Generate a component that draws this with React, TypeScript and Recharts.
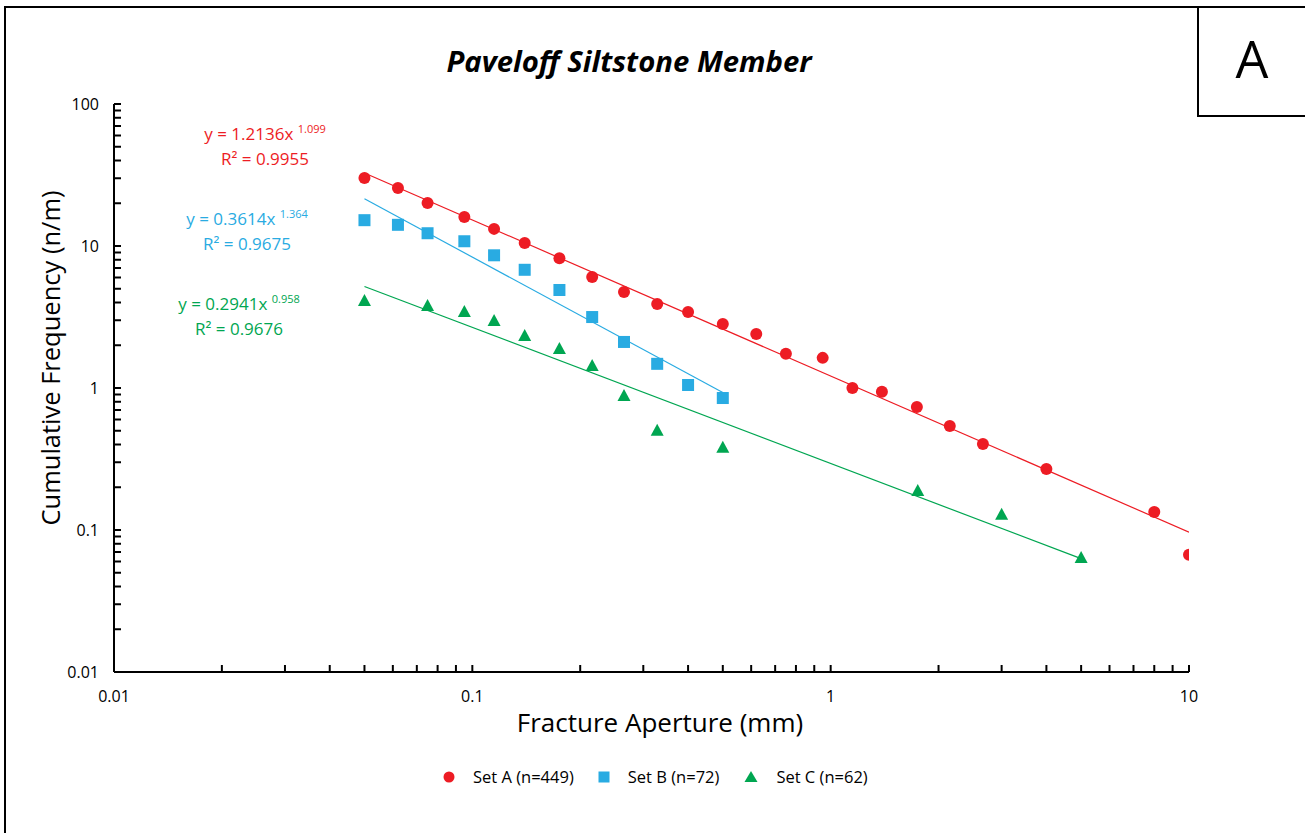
import { ScatterChart, Scatter, XAxis, YAxis } from "recharts"

const RED = "#ED1C24"
const BLUE = "#29ABE2"
const GREEN = "#00A651"
const FONT = "'Open Sans', sans-serif"

// aperture (mm) and cumulative frequency (n/m)
const setAX = [0.05, 0.062, 0.075, 0.095, 0.115, 0.14, 0.175, 0.216, 0.265, 0.328, 0.4, 0.5, 0.62, 0.75, 0.95, 1.15, 1.39, 1.74, 2.15, 2.66, 4, 8, 10]
const setAY = [30.1, 25.6, 20.1, 16.0, 13.2, 10.5, 8.2, 6.05, 4.75, 3.9, 3.43, 2.82, 2.4, 1.74, 1.63, 1.0, 0.94, 0.735, 0.54, 0.403, 0.269, 0.134, 0.067]

const setBX = [0.05, 0.062, 0.075, 0.095, 0.115, 0.14, 0.175, 0.216, 0.265, 0.328, 0.4, 0.5]
const setBY = [15.2, 14.1, 12.3, 10.8, 8.6, 6.8, 4.9, 3.16, 2.11, 1.48, 1.05, 0.85]

const setCX = [0.05, 0.075, 0.095, 0.115, 0.14, 0.175, 0.216, 0.265, 0.328, 0.5, 1.75, 3, 5]
const setCY = [4.1, 3.78, 3.43, 2.96, 2.32, 1.88, 1.43, 0.88, 0.5, 0.38, 0.188, 0.128, 0.0635]

// power-law trendline end points
const trendA = [{ x: 0.05, y: 32.7 }, { x: 10, y: 0.0966 }]
const trendB = [{ x: 0.05, y: 21.5 }, { x: 0.5, y: 0.93 }]
const trendC = [{ x: 0.05, y: 5.19 }, { x: 5, y: 0.0629 }]

const xDecades = [0.01, 0.1, 1]
const yDecades = [0.01, 0.1, 1, 10]
const steps = [1, 2, 3, 4, 5, 6, 7, 8, 9]
const xTicks = [...xDecades.flatMap((d) => steps.map((s) => d * s)), 10]
const yTicks = [...yDecades.flatMap((d) => steps.map((s) => d * s)), 100]

const zip = (xs: number[], ys: number[]) => xs.map((x, i) => ({ x, y: ys[i] }))
const dataA = zip(setAX, setAY)
const dataB = zip(setBX, setBY)
const dataC = zip(setCX, setCY)

const isMajor = (v: number) => Math.abs(Math.log10(v) - Math.round(Math.log10(v))) < 1e-6
const fmt = (v: number) => (isMajor(v) ? String(Number(v.toPrecision(1))) : "")

const Dot = (p: any) => <circle cx={p.cx} cy={p.cy} r={6} fill={RED} />
const Sq = (p: any) => <rect x={p.cx - 6} y={p.cy - 6} width={12} height={12} fill={BLUE} />
const Tri = (p: any) => (
  <polygon points={`${p.cx},${p.cy - 7} ${p.cx + 6.5},${p.cy + 5} ${p.cx - 6.5},${p.cy + 5}`} fill={GREEN} />
)
const NoDot = () => <g />

const eq = (color: string, cx: number, top: number, coef: string, exp: string, r2: string) => (
  <div
    style={{
      position: "absolute",
      left: cx - 150,
      width: 300,
      top,
      color,
      fontFamily: FONT,
      fontSize: 17,
      lineHeight: "25px",
      textAlign: "center",
    }}
  >
    <div>
      y = {coef}x <span style={{ fontSize: 11, verticalAlign: 7 }}>{exp}</span>
    </div>
    <div>R² = {r2}</div>
  </div>
)

export default function App() {
  return (
    <div style={{ position: "absolute", left: 0, top: 0, width: 1305, height: 833, background: "#fff", overflow: "hidden" }}>
      <div style={{ position: "absolute", left: 4, top: 6, width: 1320, height: 860, border: "2px solid #000" }} />
      <div style={{ position: "absolute", left: 1197, top: 6, width: 120, height: 111, border: "2px solid #000", boxSizing: "border-box" }} />
      <div style={{ position: "absolute", left: 1199, top: 18, width: 106, textAlign: "center", fontFamily: FONT, fontSize: 52, lineHeight: "80px" }}>A</div>

      <div
        style={{
          position: "absolute",
          left: 0,
          width: 1258,
          top: 41,
          textAlign: "center",
          fontFamily: FONT,
          fontSize: 29.3,
          fontWeight: 700,
          fontStyle: "italic",
          lineHeight: "40px",
        }}
      >
        Paveloff Siltstone Member
      </div>

      <ScatterChart width={1305} height={833} margin={{ top: 104, right: 116, bottom: 131, left: 54 }}>
        <XAxis
          type="number"
          dataKey="x"
          scale="log"
          domain={[0.01, 10]}
          allowDataOverflow
          ticks={xTicks}
          interval={0}
          tickFormatter={fmt}
          tickSize={-7}
          tickMargin={26}
          height={30}
          axisLine={{ stroke: "#000", strokeWidth: 2 }}
          tickLine={{ stroke: "#000", strokeWidth: 2 }}
          tick={{ fill: "#000", fontSize: 16, fontFamily: FONT }}
        />
        <YAxis
          type="number"
          dataKey="y"
          scale="log"
          domain={[0.01, 100]}
          allowDataOverflow
          ticks={yTicks}
          interval={0}
          tickFormatter={fmt}
          tickSize={-7}
          tickMargin={22}
          width={60}
          axisLine={{ stroke: "#000", strokeWidth: 2 }}
          tickLine={{ stroke: "#000", strokeWidth: 2 }}
          tick={{ fill: "#000", fontSize: 16, fontFamily: FONT }}
        />
        <Scatter data={dataA} shape={Dot} isAnimationActive={false} />
        <Scatter data={dataB} shape={Sq} isAnimationActive={false} />
        <Scatter data={dataC} shape={Tri} isAnimationActive={false} />
        <Scatter data={trendA} shape={NoDot} line={{ stroke: RED, strokeWidth: 1.2 }} isAnimationActive={false} />
        <Scatter data={trendB} shape={NoDot} line={{ stroke: BLUE, strokeWidth: 1.2 }} isAnimationActive={false} />
        <Scatter data={trendC} shape={NoDot} line={{ stroke: GREEN, strokeWidth: 1.2 }} isAnimationActive={false} />
      </ScatterChart>

      <div style={{ position: "absolute", left: 360, width: 600, textAlign: "center", top: 704, fontFamily: FONT, fontSize: 26, lineHeight: "36px" }}>
        Fracture Aperture (mm)
      </div>
      <div
        style={{
          position: "absolute",
          left: 50,
          top: 358,
          transform: "translate(-50%, -50%) rotate(-90deg)",
          whiteSpace: "nowrap",
          fontFamily: FONT,
          fontSize: 25.5,
          lineHeight: "36px",
        }}
      >
        Cumulative Frequency (n/m)
      </div>

      {eq(RED, 265, 116, "1.2136", "1.099", "0.9955")}
      {eq(BLUE, 247, 201, "0.3614", "1.364", "0.9675")}
      {eq(GREEN, 239, 286, "0.2941", "0.958", "0.9676")}

      <div style={{ position: "absolute", left: 442, top: 765, display: "flex", alignItems: "center", fontFamily: FONT, fontSize: 16.5, lineHeight: "24px" }}>
        <svg width={14} height={14}><circle cx={7} cy={7} r={5.5} fill={RED} /></svg>
        <span style={{ marginLeft: 17, marginRight: 23 }}>Set A (n=449)</span>
        <svg width={14} height={14}><rect x={1.5} y={1.5} width={11} height={11} fill={BLUE} /></svg>
        <span style={{ marginLeft: 17, marginRight: 25 }}>Set B (n=72)</span>
        <svg width={14} height={14}><polygon points="7,1 13.5,12 0.5,12" fill={GREEN} /></svg>
        <span style={{ marginLeft: 18 }}>Set C (n=62)</span>
      </div>
    </div>
  )
}
